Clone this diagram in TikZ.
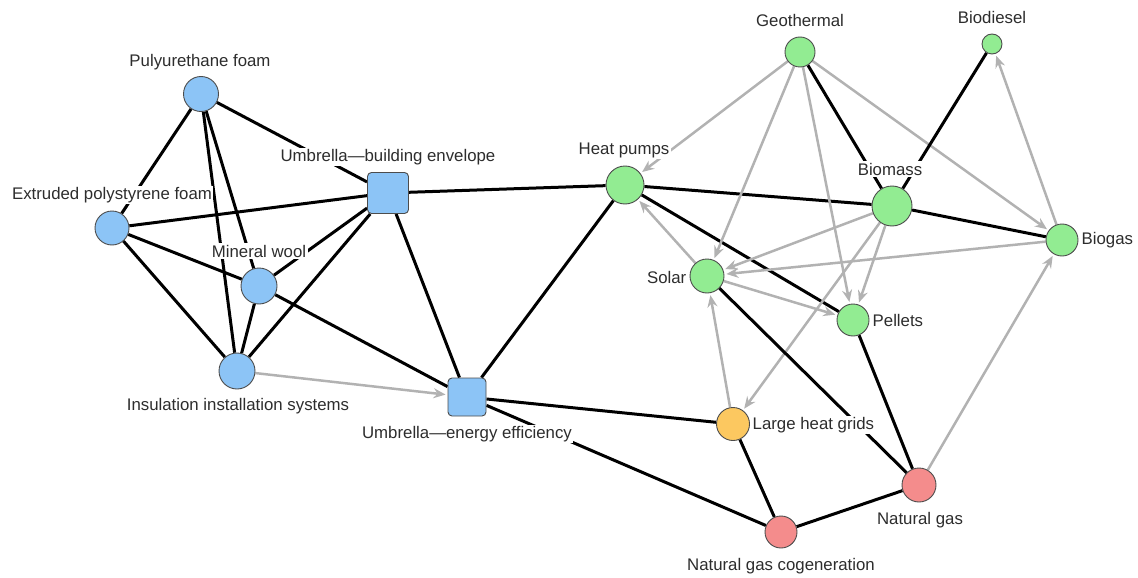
\documentclass[tikz,border=0pt]{standalone}
\usepackage{fontspec}
\setmainfont{Liberation Sans}
\usetikzlibrary{arrows.meta}
\pgfdeclarelayer{edges}
\pgfsetlayers{edges,main}
\definecolor{nblue}{RGB}{140,196,246}
\definecolor{ngreen}{RGB}{146,236,146}
\definecolor{norange}{RGB}{252,200,96}
\definecolor{npink}{RGB}{244,140,140}
\definecolor{lgray}{RGB}{178,178,178}
\definecolor{txt}{RGB}{45,45,45}
\tikzset{
  vert/.style={circle, draw=black!70, line width=0.9pt, inner sep=0pt},
  sq/.style={rectangle, rounded corners=4pt, draw=black!70, line width=0.9pt, fill=nblue, inner sep=0pt},
  lbl/.style={fill=white, inner sep=1.5pt, text=txt, font=\fontsize{16.8}{19}\selectfont},
  blk/.style={draw=black, line width=3pt},
  gry/.style={draw=lgray, line width=2.5pt, shorten >=2pt, -{Stealth[length=12pt,width=10pt,inset=4pt]}},
}
\begin{document}
\begin{tikzpicture}[x=1pt,y=-1pt]
\useasboundingbox (0,0) rectangle (1138,578);
% shapes
\node[vert, fill=nblue, minimum size=35pt] (pu) at (201,94) {};
\node[vert, fill=nblue, minimum size=34pt] (ext) at (112,228) {};
\node[vert, fill=nblue, minimum size=36pt] (mw) at (259,286) {};
\node[vert, fill=nblue, minimum size=36pt] (ins) at (237,371) {};
\node[sq, minimum size=41pt] (ube) at (388,193) {};
\node[sq, minimum size=38pt] (uee) at (467,397) {};
\node[vert, fill=ngreen, minimum size=38pt] (hp) at (625,185) {};
\node[vert, fill=ngreen, minimum size=30pt] (geo) at (800,52) {};
\node[vert, fill=ngreen, minimum size=20pt] (bd) at (992,44) {};
\node[vert, fill=ngreen, minimum size=40pt] (bm) at (892,206) {};
\node[vert, fill=ngreen, minimum size=32pt] (bg) at (1062,240) {};
\node[vert, fill=ngreen, minimum size=34pt] (sol) at (707,276) {};
\node[vert, fill=ngreen, minimum size=32pt] (pel) at (853,320) {};
\node[vert, fill=norange, minimum size=33pt] (lhg) at (733,424) {};
\node[vert, fill=npink, minimum size=34pt] (ng) at (919,485) {};
\node[vert, fill=npink, minimum size=32pt] (ngc) at (781,532) {};
% labels
\node[lbl] (lpu) at (200,62) {Pulyurethane foam};
\node[lbl] (lext) at (112,195) {Extruded polystyrene foam};
\node[lbl] (lmw) at (259,251) {Mineral wool};
\node[lbl] (lins) at (238,406) {Insulation installation systems};
\node[lbl] (lube) at (388,157) {Umbrella—building envelope};
\node[lbl] (luee) at (467,434) {Umbrella—energy efficiency};
\node[lbl] (lhp) at (624,150) {Heat pumps};
\node[lbl] (lgeo) at (800,20) {Geothermal};
\node[lbl] (lbd) at (992,17) {Biodiesel};
\node[lbl] (lbm) at (890,169) {Biomass};
\node[lbl, anchor=west] (lbg) at (1080,240) {Biogas};
\node[lbl, anchor=east] (lsol) at (688,277) {Solar};
\node[lbl, anchor=west] (lpel) at (871,320) {Pellets};
\node[lbl, anchor=west] (llhg) at (751,425) {Large heat grids};
\node[lbl] (lng) at (920,520) {Natural gas};
\node[lbl] (lngc) at (781,566) {Natural gas cogeneration};
% edges
\begin{pgfonlayer}{edges}
\draw[blk] (pu) -- (ext);
\draw[blk] (pu) -- (mw);
\draw[blk] (pu) -- (ins);
\draw[blk] (pu) -- (ube);
\draw[blk] (ext) -- (ube);
\draw[blk] (ext) -- (mw);
\draw[blk] (ext) -- (ins);
\draw[blk] (mw) -- (ins);
\draw[blk] (mw) -- (ube);
\draw[blk] (mw) -- (uee);
\draw[blk] (ins) -- (ube);
\draw[gry] (ins) -- (uee);
\draw[blk] (ube) -- (uee);
\draw[blk] (ube) -- (hp);
\draw[blk] (hp) -- (bm);
\draw[blk] (bm) -- (bg);
\draw[blk] (uee) -- (hp);
\draw[blk] (uee) -- (lhg);
\draw[blk] (uee) -- (ngc);
\draw[blk] (hp) -- (pel);
\draw[gry] (geo) -- (hp);
\draw[gry] (geo) -- (sol);
\draw[gry] (geo) -- (pel);
\draw[blk] (geo) -- (bm);
\draw[gry] (geo) -- (bg);
\draw[blk] (bd) -- (bm);
\draw[gry] (bg) -- (bd);
\draw[gry] (bm) -- (sol);
\draw[gry] (bm) -- (pel);
\draw[gry] (bm) -- (lhg);
\draw[gry] (bg) -- (sol);
\draw[gry] (sol) -- (hp);
\draw[gry] (sol) -- (pel);
\draw[blk] (sol) -- (ng);
\draw[gry] (lhg) -- (sol);
\draw[blk] (lhg) -- (ngc);
\draw[blk] (ngc) -- (ng);
\draw[blk] (pel) -- (ng);
\draw[gry] (ng) -- (bg);
\end{pgfonlayer}
\end{tikzpicture}
\end{document}
